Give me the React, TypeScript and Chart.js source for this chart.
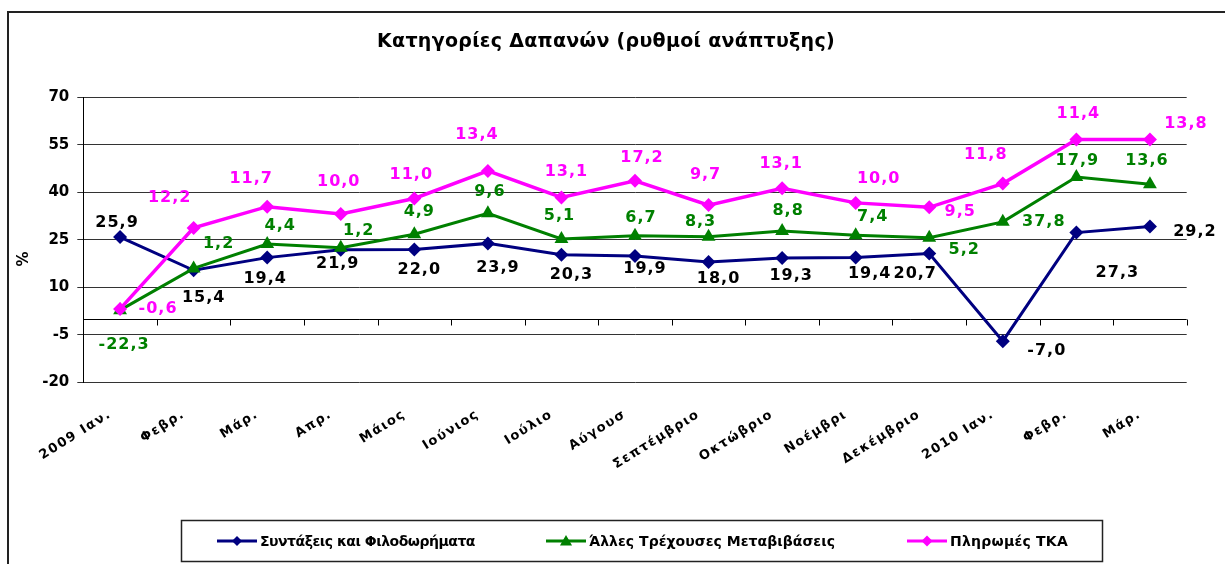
import React, { useEffect, useRef } from "react";
import { Chart, registerables } from "chart.js";

Chart.register(...registerables);

const W = 1225;
const H = 564;
const FONT = "'DejaVu Sans', 'Noto Sans', sans-serif";

const TITLE = "Κατηγορίες Δαπανών (ρυθμοί ανάπτυξης)";
const Y_TITLE = "%";

const categories = [
  "2009 Ιαν.", "Φεβρ.", "Μάρ.", "Απρ.", "Μάιος", "Ιούνιος", "Ιούλιο", "Αύγουσ",
  "Σεπτέμβριο", "Οκτώβριο", "Νοέμβρι", "Δεκέμβριο", "2010 Ιαν.", "Φεβρ.", "Μάρ.",
];

const seriesNames = [
  "Συντάξεις και Φιλοδωρήματα",
  "Άλλες Τρέχουσες Μεταβιβάσεις",
  "Πληρωμές ΤΚΑ",
];

// plotted values
const pensions = [25.9, 15.4, 19.4, 21.9, 22.0, 23.9, 20.3, 19.9, 18.0, 19.3, 19.4, 20.7, -7.0, 27.3, 29.2];
const transfers = [2.8, 16.0, 23.7, 22.5, 26.8, 33.4, 25.3, 26.3, 26.0, 27.8, 26.5, 25.7, 30.7, 44.9, 42.6];
const tka = [3.2, 28.8, 35.5, 33.2, 38.1, 46.8, 38.4, 43.7, 36.0, 41.3, 36.7, 35.3, 42.8, 56.7, 56.7];

// data label texts as printed on the chart
const pensionsLabels = ["25,9", "15,4", "19,4", "21,9", "22,0", "23,9", "20,3", "19,9", "18,0", "19,3", "19,4", "20,7", "-7,0", "27,3", "29,2"];
const transfersLabels = ["-22,3", "1,2", "4,4", "1,2", "4,9", "9,6", "5,1", "6,7", "8,3", "8,8", "7,4", "5,2", "37,8", "17,9", "13,6"];
const tkaLabels = ["-0,6", "12,2", "11,7", "10,0", "11,0", "13,4", "13,1", "17,2", "9,7", "13,1", "10,0", "9,5", "11,8", "11,4", "13,8"];

const Y_MIN = -20;
const Y_MAX = 70;
const Y_STEP = 15;

// label placement (pixel offsets from each point)
const pensionsOffsets = [[-3, -14], [10, 28], [-2, 21], [-3, 14], [5, 20], [10, 24], [10, 20], [10, 13], [10, 17], [9, 18], [14, 16], [-14, 20], [44, 10], [41, 40], [45, 5]];
const transfersOffsets = [[4, 35], [25, -25], [13, -18], [18, -17], [5, -22], [2, -21], [-2, -23], [6, -18], [-8, -15], [6, -20], [17, -18], [35, 12], [41, 0], [1, -16], [-3, -23]];
const tkaOffsets = [[38, 0], [-24, -30], [-16, -28], [-2, -32], [-3, -24], [-11, -36], [5, -26], [7, -23], [-3, -30], [-1, -24], [23, -24], [31, 5], [-17, -29], [2, -26], [36, -16]];

const NAVY = "#000080";
const GREEN = "#008000";
const PINK = "#FF00FF";

function spacingFor(ctx: CanvasRenderingContext2D, text: string, target: number) {
  (ctx as any).letterSpacing = "0px";
  const w = ctx.measureText(text).width;
  const n = Array.from(text).length;
  return (target - w) / n;
}

function drawMarker(ctx: CanvasRenderingContext2D, style: string, x: number, y: number, r: number, color: string) {
  ctx.save();
  ctx.fillStyle = color;
  ctx.beginPath();
  if (style === "triangle") {
    let rad = 0;
    ctx.moveTo(x + Math.sin(rad) * r, y - Math.cos(rad) * r);
    rad += (2 * Math.PI) / 3;
    ctx.lineTo(x + Math.sin(rad) * r, y - Math.cos(rad) * r);
    rad += (2 * Math.PI) / 3;
    ctx.lineTo(x + Math.sin(rad) * r, y - Math.cos(rad) * r);
  } else {
    ctx.moveTo(x, y - r);
    ctx.lineTo(x + r, y);
    ctx.lineTo(x, y + r);
    ctx.lineTo(x - r, y);
  }
  ctx.closePath();
  ctx.fill();
  ctx.restore();
}

const decorPlugin = {
  id: "decor",
  beforeDatasetsDraw(chart: any) {
    const ctx: CanvasRenderingContext2D = chart.ctx;
    const { left, right } = chart.chartArea;
    const y0 = Math.round(chart.scales.y.getPixelForValue(0)) + 0.5;
    ctx.save();
    ctx.strokeStyle = "#000";
    ctx.lineWidth = 1;
    ctx.beginPath();
    ctx.moveTo(left, y0);
    ctx.lineTo(right, y0);
    const n = categories.length;
    for (let i = 0; i <= n; i++) {
      const x = Math.round(left + ((right - left) * i) / n) + 0.5;
      ctx.moveTo(x, y0);
      ctx.lineTo(x, y0 + 6);
    }
    ctx.stroke();
    ctx.restore();
  },
  afterDatasetsDraw(chart: any) {
    const ctx: CanvasRenderingContext2D = chart.ctx;
    const groups = [
      { di: 0, labels: pensionsLabels, offsets: pensionsOffsets, color: "#000" },
      { di: 1, labels: transfersLabels, offsets: transfersOffsets, color: GREEN },
      { di: 2, labels: tkaLabels, offsets: tkaOffsets, color: PINK },
    ];
    ctx.save();
    ctx.font = `bold 16px ${FONT}`;
    (ctx as any).letterSpacing = "1px";
    ctx.textAlign = "center";
    ctx.textBaseline = "middle";
    groups.forEach((g) => {
      const meta = chart.getDatasetMeta(g.di);
      meta.data.forEach((pt: any, i: number) => {
        const [dx, dy] = g.offsets[i];
        ctx.fillStyle = g.color;
        ctx.fillText(g.labels[i], pt.x + dx, pt.y + dy);
      });
    });
    ctx.restore();
  },
  afterDraw(chart: any) {
    const ctx: CanvasRenderingContext2D = chart.ctx;
    const xs = chart.scales.x;
    const { bottom } = chart.chartArea;

    // outer frame
    ctx.save();
    ctx.strokeStyle = "#222";
    ctx.lineWidth = 2;
    ctx.strokeRect(8, 12, W + 40, H + 40);
    ctx.restore();

    // title
    ctx.save();
    ctx.font = `bold 19px ${FONT}`;
    ctx.fillStyle = "#000";
    ctx.textBaseline = "alphabetic";
    ctx.textAlign = "left";
    const sp = spacingFor(ctx, TITLE, 458);
    (ctx as any).letterSpacing = `${sp}px`;
    ctx.fillText(TITLE, 377, 47);
    ctx.restore();

    // y title
    ctx.save();
    ctx.font = `bold 15px ${FONT}`;
    ctx.fillStyle = "#000";
    ctx.translate(24, 259);
    ctx.rotate(-Math.PI / 2);
    ctx.textAlign = "center";
    ctx.textBaseline = "middle";
    ctx.fillText(Y_TITLE, 0, 0);
    ctx.restore();

    // category labels (rotated)
    ctx.save();
    ctx.font = `bold 13px ${FONT}`;
    (ctx as any).letterSpacing = "1.5px";
    ctx.fillStyle = "#000";
    ctx.textAlign = "right";
    ctx.textBaseline = "middle";
    categories.forEach((c, i) => {
      const x = xs.getPixelForValue(i);
      ctx.save();
      ctx.translate(x - 10, bottom + 31);
      ctx.rotate((-32 * Math.PI) / 180);
      ctx.fillText(c, 0, 0);
      ctx.restore();
    });
    ctx.restore();

    // legend
    ctx.save();
    ctx.strokeStyle = "#222";
    ctx.lineWidth = 1.5;
    ctx.strokeRect(181.5, 520.5, 921, 41);
    const items = [
      { x0: 217, tw: 215, color: NAVY, style: "diamond", r: 5 },
      { x0: 546, tw: 246, color: GREEN, style: "triangle", r: 7 },
      { x0: 907, tw: 118, color: PINK, style: "diamond", r: 5.5 },
    ];
    const ly = 541;
    items.forEach((it, k) => {
      ctx.strokeStyle = it.color;
      ctx.lineWidth = 3;
      ctx.beginPath();
      ctx.moveTo(it.x0, ly);
      ctx.lineTo(it.x0 + 40, ly);
      ctx.stroke();
      drawMarker(ctx, it.style, it.x0 + 20, ly + (it.style === "triangle" ? 1 : 0), it.r, it.color);
      ctx.font = `bold 14px ${FONT}`;
      ctx.fillStyle = "#000";
      ctx.textAlign = "left";
      ctx.textBaseline = "alphabetic";
      const s = spacingFor(ctx, seriesNames[k], it.tw);
      (ctx as any).letterSpacing = `${s}px`;
      ctx.fillText(seriesNames[k], it.x0 + 43, 546);
      (ctx as any).letterSpacing = "0px";
    });
    ctx.restore();
  },
};

export default function App() {
  const ref = useRef<HTMLCanvasElement>(null);

  useEffect(() => {
    const canvas = ref.current;
    if (!canvas) return;
    const chart = new Chart(canvas, {
      type: "line",
      data: {
        labels: categories,
        datasets: [
          {
            label: seriesNames[0],
            data: pensions,
            borderColor: NAVY,
            backgroundColor: NAVY,
            borderWidth: 3,
            pointStyle: "rectRot",
            pointRadius: 7,
            pointBorderWidth: 0,
            pointBackgroundColor: NAVY,
            tension: 0,
            fill: false,
            order: 3,
          },
          {
            label: seriesNames[1],
            data: transfers,
            borderColor: GREEN,
            backgroundColor: GREEN,
            borderWidth: 3,
            pointStyle: "triangle",
            pointRadius: 8,
            pointBorderWidth: 0,
            pointBackgroundColor: GREEN,
            tension: 0,
            fill: false,
            order: 2,
          },
          {
            label: seriesNames[2],
            data: tka,
            borderColor: PINK,
            backgroundColor: PINK,
            borderWidth: 3.5,
            pointStyle: "rectRot",
            pointRadius: 7,
            pointBorderWidth: 0,
            pointBackgroundColor: PINK,
            tension: 0,
            fill: false,
            order: 1,
          },
        ],
      },
      options: {
        responsive: false,
        devicePixelRatio: 1,
        animation: false,
        events: [],
        layout: { padding: { left: 0, top: 97.5, right: 38.3, bottom: 0 } },
        plugins: {
          legend: { display: false },
          title: { display: false },
          tooltip: { enabled: false },
        },
        scales: {
          x: {
            type: "category",
            offset: true,
            grid: { display: false },
            border: { display: false },
            ticks: { display: false },
            afterFit: (s: any) => {
              s.height = H - 382.3;
            },
          },
          y: {
            min: Y_MIN,
            max: Y_MAX,
            ticks: {
              stepSize: Y_STEP,
              color: "#000",
              padding: 8,
              font: { family: FONT, weight: "bold", size: 15 },
            },
            grid: { color: "#333", lineWidth: 1, tickLength: 6, drawTicks: true },
            border: { display: true, color: "#000", width: 1 },
            afterFit: (s: any) => {
              s.width = 83.3;
            },
          },
        },
      },
      plugins: [decorPlugin],
    } as any);
    return () => chart.destroy();
  }, []);

  return (
    <div style={{ position: "fixed", left: 0, top: 0, width: W, height: H, background: "#fff" }}>
      <canvas ref={ref} width={W} height={H} style={{ width: W, height: H, display: "block" }} />
    </div>
  );
}
